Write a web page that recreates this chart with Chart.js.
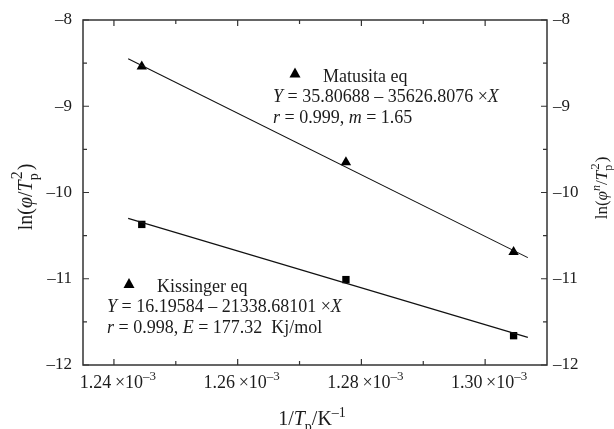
<!DOCTYPE html>
<html>
<head>
<meta charset="utf-8">
<script src="https://cdn.jsdelivr.net/npm/chart.js@4/dist/chart.umd.min.js"></script>
<style>
html,body{margin:0;padding:0;background:#fff;}
#wrap{width:614px;height:429px;position:relative;}
</style>
</head>
<body>
<div id="wrap"><canvas id="c" width="614" height="429"></canvas></div>
<script>
// ---- data ----
const xPoints = [0.0012445, 0.0012775, 0.0013046];   // 1/Tp (K^-1)
const matusitaY = [-8.54, -9.65, -10.69];             // ln(phi^n/Tp^2)
const kissingerY = [-10.37, -11.01, -11.66];          // ln(phi/Tp^2)
const fitX = [0.0012423, 0.0013069];
const matusitaFitY = [-8.45, -10.755];
const kissingerFitY = [-10.30, -11.68];
const xMajorTicks = [0.00124, 0.00126, 0.00128, 0.00130];
const xMinorTicks = [0.00125, 0.00127, 0.00129];
const xTickLabels = ['1.24', '1.26', '1.28', '1.30'];
const yMajorTicks = [-8, -9, -10, -11, -12];
const yMinorTicks = [-8.5, -9.5, -10.5, -11.5];
const yTickLabels = ['–8', '–9', '–10', '–11', '–12'];

const FAM = '"Liberation Serif", "Times New Roman", serif';
const INK = '#1c1c1c';

function segFont(seg, size, ratio) {
  const sz = (seg.sub || seg.sup) ? Math.round(size * (ratio || 0.7)) : size;
  return (seg.i ? 'italic ' : '') + sz + 'px ' + FAM;
}
function segWidth(ctx, seg, size) {
  ctx.font = segFont(seg, size);
  let w = ctx.measureText(seg.t).width;
  if (seg.stack) {
    ctx.font = segFont({sup: true}, size, 0.78);
    w = Math.max(w, ctx.measureText(seg.stack).width);
  }
  return w + (seg.pad || 0);
}
function drawRich(ctx, segs, x, y, size, align) {
  let total = 0;
  segs.forEach(s => total += segWidth(ctx, s, size));
  let cx = align === 'center' ? x - total / 2 : align === 'right' ? x - total : x;
  ctx.textAlign = 'left';
  ctx.textBaseline = 'alphabetic';
  ctx.fillStyle = INK;
  segs.forEach(s => {
    const w = segWidth(ctx, s, size);
    ctx.font = segFont(s, size);
    let dy = 0;
    if (s.sup) dy = -size * 0.42;
    if (s.sub) dy = size * 0.3;
    ctx.fillText(s.t, cx + (s.lpad || 0), y + dy);
    if (s.stack) {
      ctx.font = segFont({sup: true}, size, 0.78);
      ctx.fillText(s.stack, cx + 1, y - size * 0.5);
    }
    cx += w;
  });
}

const decor = {
  id: 'decor',
  afterDraw(chart) {
    const ctx = chart.ctx;
    const a = chart.chartArea;
    const xs = chart.scales.x, ys = chart.scales.y;
    ctx.save();
    // frame
    ctx.strokeStyle = '#333';
    ctx.lineWidth = 1.5;
    ctx.strokeRect(a.left, a.top, a.right - a.left, a.bottom - a.top);
    // ticks (inward, all four sides)
    ctx.lineWidth = 1.2;
    const tick = (v, len, isX) => {
      ctx.beginPath();
      if (isX) {
        const px = xs.getPixelForValue(v);
        ctx.moveTo(px, a.bottom); ctx.lineTo(px, a.bottom - len);
        ctx.moveTo(px, a.top); ctx.lineTo(px, a.top + len);
      } else {
        const py = ys.getPixelForValue(v);
        ctx.moveTo(a.left, py); ctx.lineTo(a.left + len, py);
        ctx.moveTo(a.right, py); ctx.lineTo(a.right - len, py);
      }
      ctx.stroke();
    };
    xMajorTicks.forEach(v => tick(v, 6, true));
    xMinorTicks.forEach(v => tick(v, 4, true));
    yMajorTicks.forEach(v => tick(v, 6, false));
    yMinorTicks.forEach(v => tick(v, 4, false));

    // x tick labels
    xMajorTicks.forEach((v, i) => {
      const px = xs.getPixelForValue(v);
      drawRich(ctx, [{t: xTickLabels[i] + '\u2009×10'}, {t: '–3', sup: true}], px + 4, 388, 18, 'center');
    });
    // y tick labels left & right
    ctx.font = '17px ' + FAM;
    ctx.fillStyle = INK;
    ctx.textBaseline = 'middle';
    yMajorTicks.forEach((v, i) => {
      const py = ys.getPixelForValue(v);
      ctx.textAlign = 'right';
      ctx.fillText(yTickLabels[i], a.left - 11, py);
      ctx.textAlign = 'left';
      ctx.fillText(yTickLabels[i], a.right + 6, py);
    });

    // axis titles
    drawRich(ctx, [{t: '1/'}, {t: 'T', i: true}, {t: 'p', sub: true}, {t: '/K'}, {t: '–1', sup: true}], 312, 425, 20, 'center');
    ctx.save();
    ctx.translate(32, 197);
    ctx.rotate(-Math.PI / 2);
    drawRich(ctx, [{t: 'ln('}, {t: 'φ', i: true}, {t: '/'}, {t: 'T', i: true}, {t: 'p', sub: true, stack: '2', pad: 2}, {t: ')'}], 0, 0, 20, 'center');
    ctx.restore();
    ctx.save();
    ctx.translate(607, 188);
    ctx.rotate(-Math.PI / 2);
    drawRich(ctx, [{t: 'ln('}, {t: 'φ', i: true}, {t: 'n', sup: true, i: true}, {t: '/'}, {t: 'T', i: true}, {t: 'p', sub: true, stack: '2', pad: 2}, {t: ')'}], 0, 0, 17, 'center');
    ctx.restore();

    // annotations
    const tri = (cx, cy) => {
      ctx.beginPath();
      ctx.moveTo(cx, cy - 5.5);
      ctx.lineTo(cx + 5.5, cy + 4.5);
      ctx.lineTo(cx - 5.5, cy + 4.5);
      ctx.closePath();
      ctx.fillStyle = '#000';
      ctx.fill();
    };
    tri(295, 73);
    drawRich(ctx, [{t: 'Matusita eq'}], 323, 81.5, 18, 'left');
    drawRich(ctx, [{t: 'Y', i: true}, {t: ' = 35.80688 – 35626.8076 ×'}, {t: 'X', i: true}], 273, 101.5, 18, 'left');
    drawRich(ctx, [{t: 'r', i: true}, {t: ' = 0.999, '}, {t: 'm', i: true}, {t: ' = 1.65'}], 273, 123, 18, 'left');

    tri(129, 283.5);
    drawRich(ctx, [{t: 'Kissinger eq'}], 157, 291.5, 18, 'left');
    drawRich(ctx, [{t: 'Y', i: true}, {t: ' = 16.19584 – 21338.68101 ×'}, {t: 'X', i: true}], 107, 311.5, 18, 'left');
    drawRich(ctx, [{t: 'r', i: true}, {t: ' = 0.998, '}, {t: 'E', i: true}, {t: ' = 177.32  Kj/mol'}], 107, 332.5, 18, 'left');
    ctx.restore();
  }
};

const toPts = (xs, ys) => xs.map((x, i) => ({x: x, y: ys[i]}));

new Chart(document.getElementById('c'), {
  type: 'scatter',
  data: {
    datasets: [
      {label: 'Matusita fit', type: 'line', data: toPts(fitX, matusitaFitY), borderColor: '#111', borderWidth: 1.1, pointRadius: 0, fill: false},
      {label: 'Kissinger fit', type: 'line', data: toPts(fitX, kissingerFitY), borderColor: '#111', borderWidth: 1.1, pointRadius: 0, fill: false},
      {label: 'Matusita eq', data: toPts(xPoints, matusitaY), pointStyle: 'triangle', pointRadius: 6, backgroundColor: '#000', borderColor: '#000', borderWidth: 0},
      {label: 'Kissinger eq', data: toPts(xPoints, kissingerY), pointStyle: 'rect', pointRadius: 5.2, backgroundColor: '#000', borderColor: '#000', borderWidth: 0}
    ]
  },
  options: {
    responsive: false,
    animation: false,
    layout: {padding: {left: 83, right: 67, top: 20, bottom: 64}},
    plugins: {legend: {display: false}, tooltip: {enabled: false}},
    scales: {
      x: {type: 'linear', min: 0.001235, max: 0.00131, display: false},
      y: {type: 'linear', min: -12, max: -8, display: false}
    }
  },
  plugins: [decor]
});
</script>
</body>
</html>
